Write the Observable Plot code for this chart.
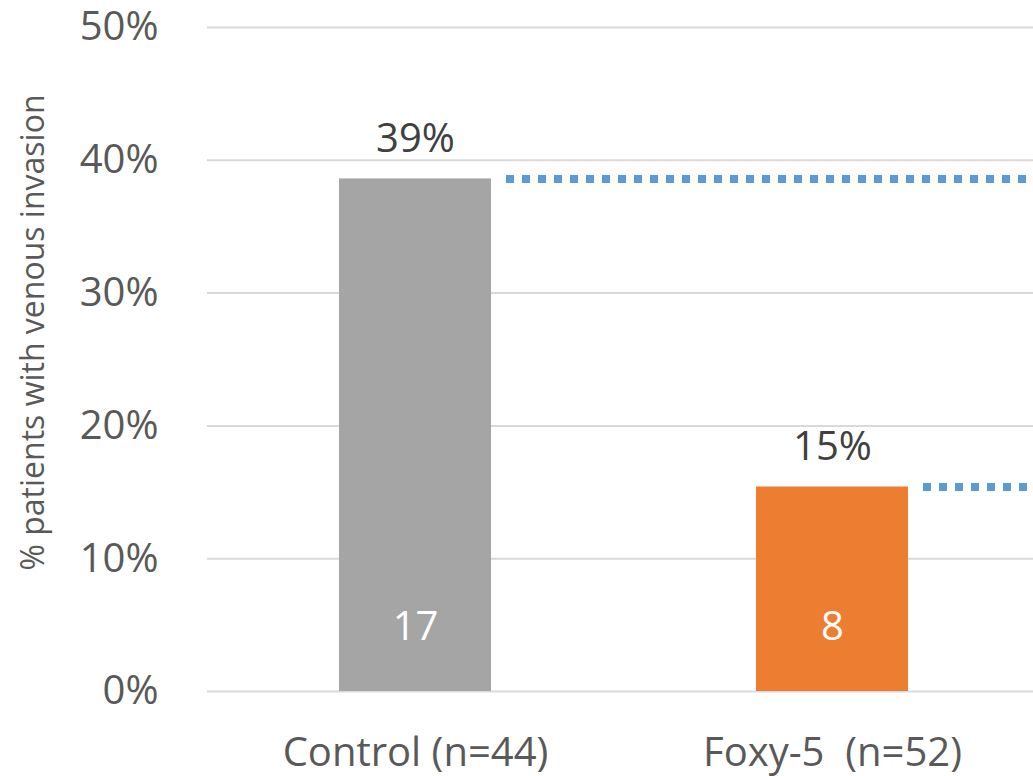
<!DOCTYPE html>
<html>
<head>
<meta charset="utf-8">
<script src="https://cdn.jsdelivr.net/npm/d3@7"></script>
<script src="https://cdn.jsdelivr.net/npm/@observablehq/plot@0.6"></script>
<style>
  html, body { margin: 0; padding: 0; background: #fff; overflow: hidden; }
  svg text { white-space: pre; }
</style>
</head>
<body>
<div id="chart"></div>
<script>
const categories = ["Control (n=44)", "Foxy-5  (n=52)"];
const values = [0.386, 0.154];
const counts = [17, 8];
const valueLabels = ["39%", "15%"];
const barColors = ["#A5A5A5", "#ED7D31"];
const yTicks = [0, 0.1, 0.2, 0.3, 0.4, 0.5];
const yTitle = "% patients with venous invasion";

const data = categories.map((c, i) => ({category: c, value: values[i], count: counts[i], label: valueLabels[i]}));

const FONT = "'Open Sans', Lato, sans-serif";

const chart = Plot.plot({
  width: 1033,
  height: 776,
  marginTop: 27,
  marginBottom: 85,
  marginLeft: 207,
  marginRight: 0,
  style: {fontFamily: FONT, background: "white", overflow: "hidden"},
  x: {domain: categories, range: [207, 1041], paddingInner: 0.635, paddingOuter: 0.3175, label: null},
  y: {domain: [0, 0.5], label: null},
  color: {domain: categories, range: barColors},
  marks: [
    Plot.ruleY(yTicks, {stroke: "#D9D9D9", strokeWidth: 2}),
    Plot.axisY({ticks: yTicks, tickFormat: d3.format(".0%"), tickSize: 0, tickPadding: 49, fontSize: 40, fill: "#595959", label: null}),
    Plot.axisX({tickSize: 0, tickPadding: 46, fontSize: 40, fill: "#595959", label: null}),
    Plot.barY(data, {x: "category", y: "value", fill: "category"}),
    Plot.ruleY(data, {y: "value", x1: "category", x2: () => categories[categories.length - 1], stroke: "#5B9BD5", strokeWidth: 8, strokeDasharray: "8,8", dx: 167}),
    Plot.text(data, {x: "category", y: "value", text: "label", dy: -40, fontSize: 40, fill: "#404040"}),
    Plot.text(data, {x: "category", y: 0, text: d => String(d.count), dy: -64, fontSize: 40, fill: "white"}),
    Plot.text([yTitle], {frameAnchor: "left", text: d => d, rotate: -90, textAnchor: "middle", dx: -174, dy: -27, fontSize: 32, fill: "#595959", lineAnchor: "middle"})
  ]
});
document.getElementById("chart").appendChild(chart);
</script>
</body>
</html>
